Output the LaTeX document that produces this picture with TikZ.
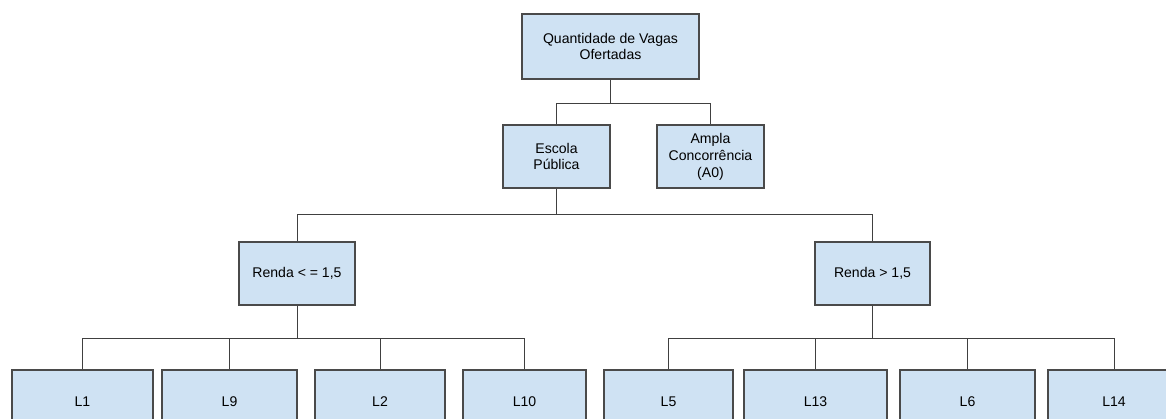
\documentclass[tikz,border=0pt]{standalone}
\usepackage{fontspec}
\setmainfont{Liberation Sans}
\usetikzlibrary{positioning}
\definecolor{boxfill}{HTML}{CFE2F3}
\definecolor{boxline}{HTML}{4A4A4A}
\tikzstyle{box} = [rectangle, align=center, draw=boxline, fill=boxfill,
	line width=0.8pt, minimum height=1.26cm, inner sep=2pt,
	font=\fontsize{8}{9.6}\selectfont]
\tikzstyle{link} = [draw=black!75, line width=0.55pt]

\begin{document}
\begin{tikzpicture}[x=0.02cm, y=-0.02cm]
	% set up frame
	\useasboundingbox (0,0) rectangle (1166,419);
	\clip (0,0) rectangle (1166,419);

	% set up nodes
	\node (vagas) [box, minimum width=3.54cm, minimum height=1.3cm] at (610.5,46.5) {Quantidade de Vagas\\Ofertadas};
	
	\node (escola) [box, minimum width=2.14cm] at (556.5,156.5) {Escola\\Pública};
	\node (ampla) [box, minimum width=2.14cm] at (710.5,156.5) {Ampla\\Concorrência\\(A0)};
	
	\node (rendaA) [box, minimum width=2.32cm] at (297,273.5) {Renda < = 1,5};
	\node (rendaB) [box, minimum width=2.30cm] at (872.5,273.5) {Renda > 1,5};
	
	\node (L1) [box, minimum width=2.82cm] at (82.5,401.5) {L1};
	\node (L9) [box, minimum width=2.70cm] at (229.5,401.5) {L9};
	\node (L2) [box, minimum width=2.60cm] at (380,401.5) {L2};
	\node (L10) [box, minimum width=2.46cm] at (524.5,401.5) {L10};
	\node (L5) [box, minimum width=2.58cm] at (668.5,401.5) {L5};
	\node (L13) [box, minimum width=2.86cm] at (815.5,401.5) {L13};
	\node (L6) [box, minimum width=2.70cm] at (967.5,401.5) {L6};
	\node (L14) [box, minimum width=2.64cm] at (1114,401.5) {L14};
	
	% set up bus levels
	\coordinate (bus1) at (0,103);
	\coordinate (bus2) at (0,214);
	\coordinate (bus3) at (0,338);
	
	% set up connectors
	\draw[link] (vagas.south) -- (vagas.south |- bus1) -| (escola.north);
	\draw[link] (vagas.south |- bus1) -| (ampla.north);
	
	\draw[link] (escola.south) -- (escola.south |- bus2) -| (rendaA.north);
	\draw[link] (escola.south |- bus2) -| (rendaB.north);
	
	\draw[link] (rendaA.south) -- (rendaA.south |- bus3);
	\foreach \leaf in {L1, L9, L2, L10}
		\draw[link] (rendaA.south |- bus3) -| (\leaf.north);
	\draw[link] (rendaB.south) -- (rendaB.south |- bus3);
	\foreach \leaf in {L5, L13, L6, L14}
		\draw[link] (rendaB.south |- bus3) -| (\leaf.north);

\end{tikzpicture}
\end{document}
